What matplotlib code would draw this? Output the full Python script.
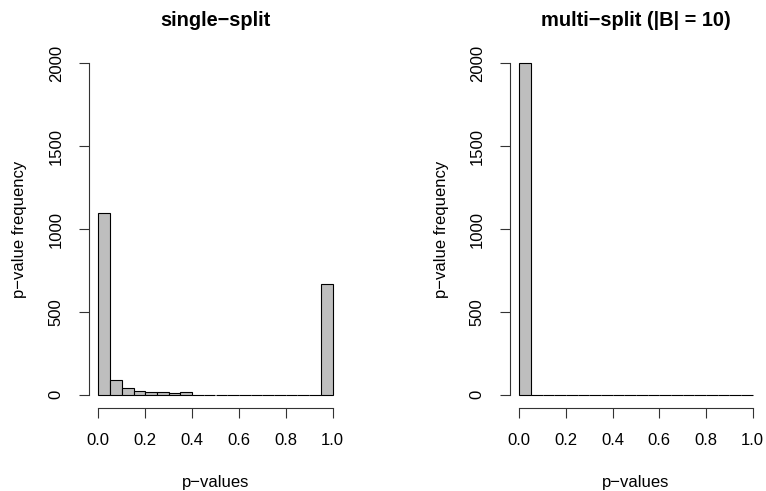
import matplotlib.pyplot as plt

# histogram data (20 bins of width 0.05 on [0, 1])
bin_edges = [i * 0.05 for i in range(20)]
single_counts = [1095, 86, 41, 25, 19, 14, 10, 14, 0, 0, 0, 0, 0, 0, 0, 0, 0, 0, 0, 668]
multi_counts = [2000] + [0] * 19

titles = ["single\u2212split", "multi\u2212split (|B| = 10)"]
xlabel = "p\u2212values"
ylabel = "p\u2212value frequency"
xticks = [0.0, 0.2, 0.4, 0.6, 0.8, 1.0]
yticks = [0, 500, 1000, 1500, 2000]

plt.rcParams['font.family'] = ['Liberation Sans', 'DejaVu Sans']
W, H = 766, 491
fig = plt.figure(figsize=(W / 100, H / 100), dpi=100)

# plot regions in pixels (left, right)
regions = [(89, 342), (510, 762)]
top, bottom = 50, 408

for (x0, x1), counts, title in zip(regions, [single_counts, multi_counts], titles):
    ax = fig.add_axes([x0 / W, 1 - bottom / H, (x1 - x0) / W, (bottom - top) / H])
    ax.bar(bin_edges, counts, width=0.05, align='edge', color='#BEBEBE',
           edgecolor='black', linewidth=0.8)
    ax.set_xlim(-0.04, 1.04)
    ax.set_ylim(-80, 2080)
    ax.spines['top'].set_visible(False)
    ax.spines['right'].set_visible(False)
    ax.spines['left'].set_bounds(0, 2000)
    ax.spines['bottom'].set_bounds(0, 1)
    for s in ['left', 'bottom']:
        ax.spines[s].set_linewidth(0.8)
        ax.spines[s].set_color('#333333')
    ax.set_xticks(xticks)
    ax.set_xticklabels(["%.1f" % v for v in xticks])
    ax.set_yticks(yticks)
    ax.set_yticklabels([str(v) for v in yticks], rotation=90, va='center')
    ax.tick_params(length=7.2, width=0.8, color='#333333', labelsize=12, pad=11)
    ax.patch.set_visible(False)

    cx = (x0 + x1) / 2
    fig.text(cx / W, 1 - 20 / H, title, ha='center', va='center',
             fontsize=14.4, fontweight='bold')
    fig.text(cx / W, 1 - 483 / H, xlabel, ha='center', va='center', fontsize=12)
    fig.text((x0 - 69) / W, 1 - 229 / H, ylabel, ha='center', va='center',
             rotation=90, fontsize=12)

fig.savefig("out.png", dpi=100)
